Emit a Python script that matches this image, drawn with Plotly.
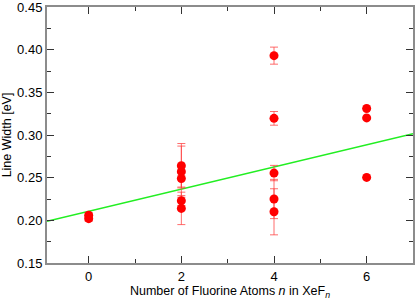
import plotly.graph_objects as go

# Data
n_atoms = [0, 0, 2, 2, 2, 2, 2, 4, 4, 4, 4, 4, 6, 6, 6]
line_width = [0.206, 0.202, 0.264, 0.257, 0.249, 0.223, 0.214,
              0.393, 0.3195, 0.2554, 0.225, 0.210, 0.331, 0.320, 0.2503]
line_err = [0.003, 0.003, 0.026, 0.030, 0.010, 0.006, 0.019,
            0.010, 0.008, 0.009, 0.023, 0.027, 0.0, 0.0, 0.0]

fit_x = [-0.9, 7.0]
fit_y = [0.1988, 0.3016]

x_ticks = [0, 2, 4, 6]
y_ticks = [0.15, 0.20, 0.25, 0.30, 0.35, 0.40, 0.45]

font = "Liberation Sans, Arial, Helvetica, sans-serif"

fig = go.Figure()
fig.add_trace(go.Scatter(
    x=fit_x, y=fit_y, mode="lines",
    line=dict(color="#22ee22", width=1.5), showlegend=False, hoverinfo="skip"))
fig.add_trace(go.Scatter(
    x=n_atoms, y=line_width, mode="markers",
    marker=dict(color="#ff0000", size=9, line=dict(width=0)),
    error_y=dict(type="data", array=line_err, visible=True,
                 color="rgba(255,60,60,0.75)", thickness=1, width=4),
    showlegend=False))

axis_common = dict(
    showline=True, linecolor="#8c8c8c", linewidth=2, mirror="ticks",
    ticks="inside", tickcolor="#333333", tickwidth=1, ticklen=7,
    showgrid=False, zeroline=False, automargin=False,
    ticklabeloverflow="allow",
    tickfont=dict(family=font, size=13, color="#000000"),
)

fig.update_xaxes(
    range=[-0.9, 7.0], tickvals=x_ticks, ticktext=[str(v) for v in x_ticks],
    minor=dict(tickvals=[1, 3, 5], ticks="inside", ticklen=4,
               tickcolor="#333333", tickwidth=1),
    title=dict(text="Number of Fluorine Atoms <i>n</i> in XeF<sub><i>n</i></sub>",
               font=dict(family=font, size=12.5, color="#000000"), standoff=6),
    **axis_common)
fig.update_yaxes(
    range=[0.15, 0.45], tickvals=y_ticks, ticktext=[f"{v:.2f}" for v in y_ticks],
    minor=dict(tickvals=[0.175, 0.225, 0.275, 0.325, 0.375, 0.425], ticks="inside",
               ticklen=4, tickcolor="#333333", tickwidth=1),
    title=dict(text="Line Width [eV]",
               font=dict(family=font, size=12.5, color="#000000"), standoff=6),
    **axis_common)

fig.update_layout(
    width=415, height=300,
    margin=dict(l=47, r=2, t=7, b=37, autoexpand=False),
    paper_bgcolor="white", plot_bgcolor="white",
    font=dict(family=font, size=12, color="#000000"),
)

fig.write_html(
    "out.html",
    config={"displayModeBar": False},
    post_script="document.body.style.margin='0';document.body.style.overflow='hidden';",
)
